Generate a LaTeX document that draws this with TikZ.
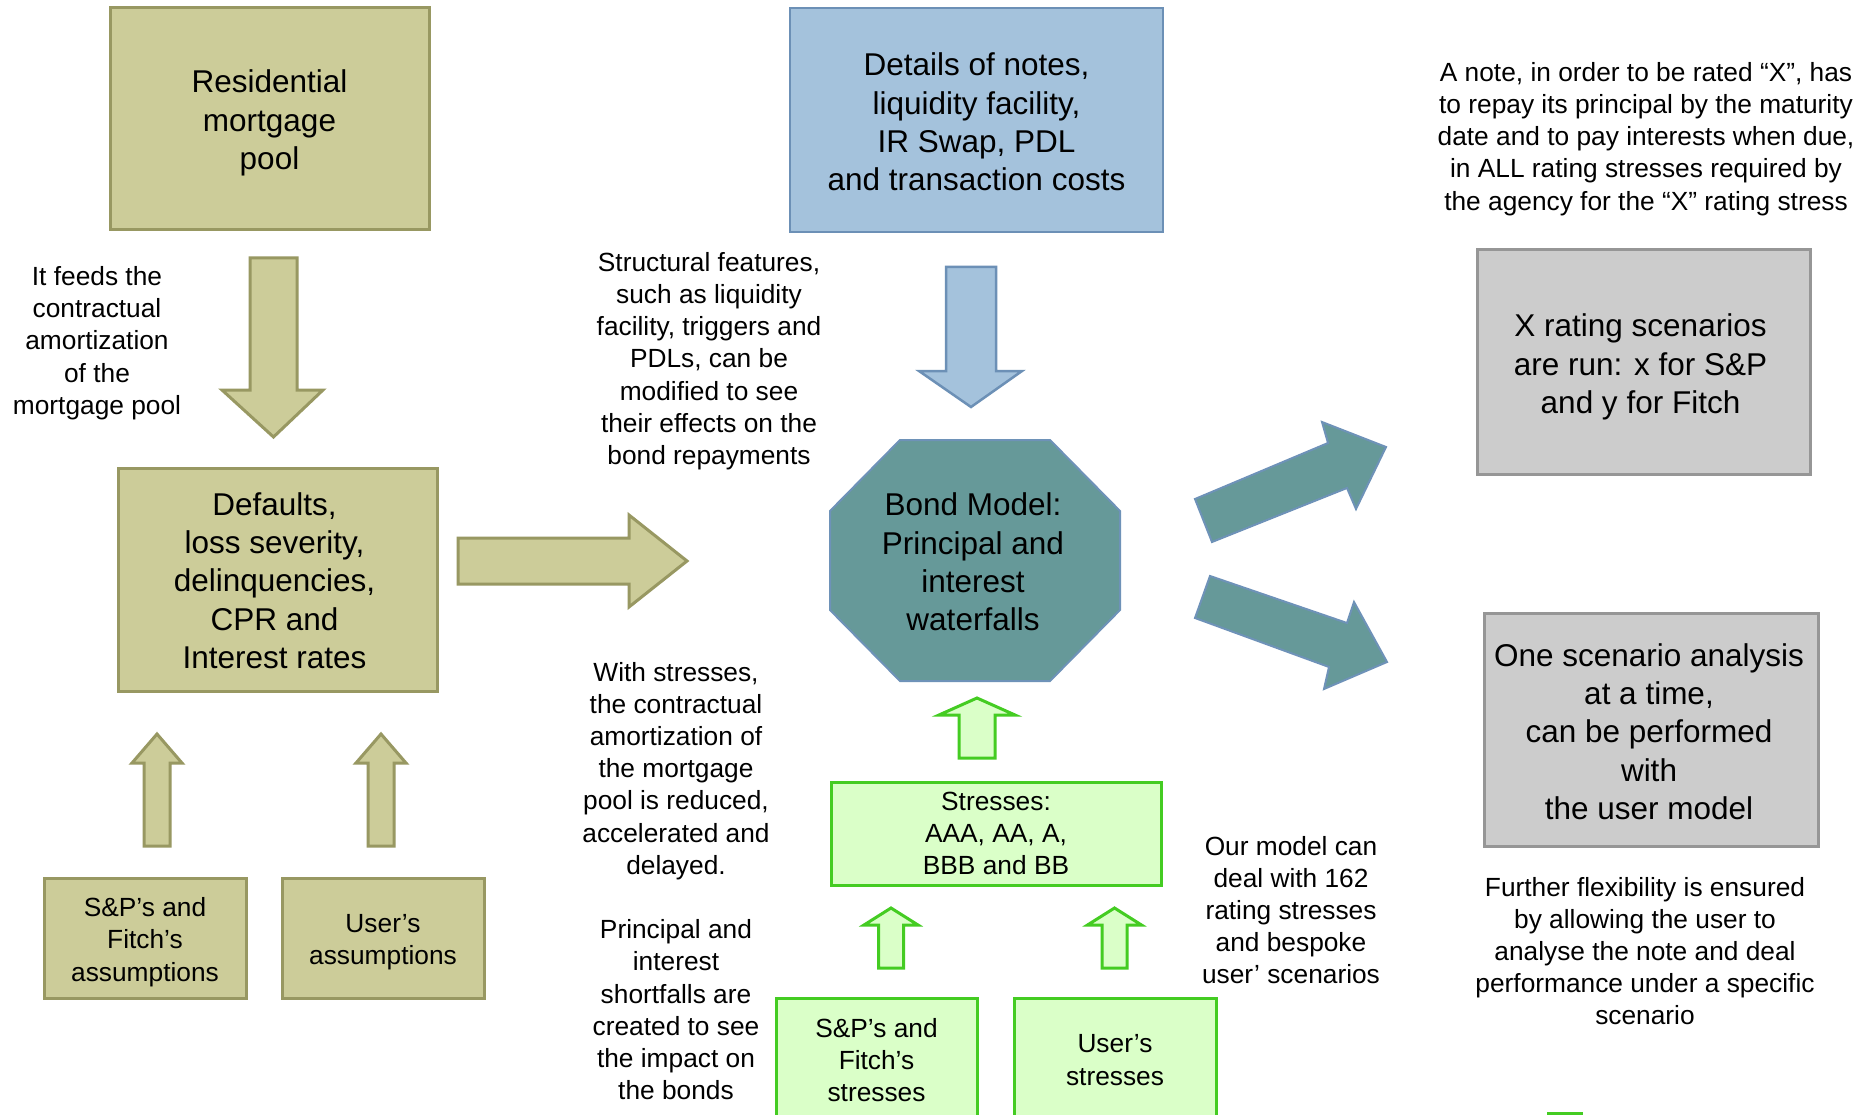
\documentclass[tikz,border=0pt]{standalone}
\usepackage{fontspec}
\setmainfont{Liberation Sans}
\usetikzlibrary{calc,positioning}

\definecolor{olivefill}{RGB}{204,204,153}
\definecolor{oliveline}{RGB}{152,152,98}
\definecolor{bluefill}{RGB}{164,194,220}
\definecolor{blueline}{RGB}{108,144,182}
\definecolor{tealfill}{RGB}{102,153,153}
\definecolor{tealline}{RGB}{110,146,184}
\definecolor{grayfill}{RGB}{204,204,204}
\definecolor{grayline}{RGB}{150,150,150}
\definecolor{greenfill}{RGB}{218,255,200}
\definecolor{greenline}{RGB}{68,204,34}

\newcommand{\bigtxt}{\fontsize{31.5}{38.3}\selectfont}
\newcommand{\smalltxt}{\fontsize{26.3}{32.2}\selectfont}

\tikzset{
  olivebox/.style={draw=oliveline, fill=olivefill, line width=3pt, inner sep=0pt},
  bluebox/.style={draw=blueline, fill=bluefill, line width=2.5pt, inner sep=0pt},
  graybox/.style={draw=grayline, fill=grayfill, line width=3pt, inner sep=0pt},
  greenbox/.style={draw=greenline, fill=greenfill, line width=3pt, inner sep=0pt},
  oliveshape/.style={draw=oliveline, fill=olivefill, line width=3pt, line join=miter},
  blueshape/.style={draw=blueline, fill=bluefill, line width=2.5pt},
  tealshape/.style={draw=tealline, fill=tealfill, line width=2pt},
  greenshape/.style={draw=greenline, fill=greenfill, line width=3pt},
  bigtext/.style={align=center, font=\bigtxt, inner sep=0pt},
  note/.style={align=center, font=\smalltxt, inner sep=0pt},
}

\begin{document}
\begin{tikzpicture}[x=1pt,y=-1pt]
    \useasboundingbox (0,0) rectangle (1866,1115);
    \clip (0,0) rectangle (1866,1115);
    \fill[white] (0,0) rectangle (1866,1115);

    % left column
    \node[olivebox, minimum width=319, minimum height=222] (pool) at (269.5,119) {};
    \node[bigtext] (pooltext) at ($(pool)+(0,4)$) {Residential\\mortgage\\pool};
    \node[olivebox, minimum width=319, minimum height=223] (defaults) at (277.5,579.5) {};
    \node[bigtext] (defaultstext) at ($(defaults)+(-3,1)$) {Defaults,\\loss severity,\\delinquencies,\\CPR and\\Interest rates};
    \node[olivebox, minimum width=202, minimum height=120] (spassume) at (145,938) {};
    \node[note] (spassumetext) at ($(spassume)+(0,4)$) {S\&P’s and\\Fitch’s\\assumptions};
    \node[olivebox, minimum width=202, minimum height=120] (userassume) at (383,938) {};
    \node[note] (userassumetext) at ($(userassume)+(0,4)$) {User’s\\assumptions};
    \node[note] (feeds) at (97,343) {It feeds the\\contractual\\amortization\\of the\\mortgage pool};

    \draw[oliveshape] (250,258) -- (297,258) -- (297,390) -- (323,390) -- (273.5,437) -- (222,390) -- (250,390) -- cycle;
    \draw[oliveshape] (458,538) -- (629,538) -- (629,515) -- (687,561) -- (629,607) -- (629,584) -- (458,584) -- cycle;
    \foreach \cx in {157,381}
    \draw[oliveshape, shift={(\cx,734)}] (0,0) -- (25,29) -- (13,29) -- (13,112) -- (-13,112) -- (-13,29) -- (-25,29) -- cycle;

    % middle column
    \node[bluebox, minimum width=373, minimum height=224] (details) at (976.5,120) {};
    \node[bigtext] (detailstext) at ($(details)+(0,2)$) {Details of notes,\\liquidity facility,\\IR Swap, PDL\\and transaction costs};
    \draw[blueshape] (946,267) -- (996,267) -- (996,371) -- (1022,371) -- (971,407) -- (919,371) -- (946,371) -- cycle;
    \node[note] (structural) at (709,361) {Structural features,\\such as liquidity\\facility, triggers and\\PDLs, can be\\modified to see\\their effects on the\\bond repayments};

    \draw[tealshape] (900,440) -- (1050,440) -- (1120,511) -- (1120,610) -- (1050,681) -- (900,681) -- (830,610) -- (830,511) -- cycle;
    \node[bigtext] (bondmodel) at (973,562) {Bond Model:\\Principal and\\interest\\waterfalls};

    \draw[greenshape, shift={(977,698)}] (0,0) -- (38,17) -- (18,17) -- (18,60) -- (-18,60) -- (-18,17) -- (-38,17) -- cycle;
    \node[greenbox, minimum width=330, minimum height=103] (stresses) at (996,833.5) {};
    \node[note] (stressestext) at (stresses) {Stresses:\\AAA, AA, A,\\BBB and BB};
    \foreach \cx in {891,1114.5}
    \draw[greenshape, shift={(\cx,908)}] (0,0) -- (27,17) -- (12.5,17) -- (12.5,60) -- (-12.5,60) -- (-12.5,17) -- (-27,17) -- cycle;
    \node[greenbox, minimum width=201, minimum height=124] (spstress) at (876.5,1060) {};
    \node[note] (spstresstext) at (spstress) {S\&P’s and\\Fitch’s\\stresses};
    \node[greenbox, minimum width=202, minimum height=124] (userstress) at (1115,1060) {};
    \node[note] (userstresstext) at (userstress) {User’s\\stresses};

    \node[note] (withstress) at (676,881) {With stresses,\\the contractual\\amortization of\\the mortgage\\pool is reduced,\\accelerated and\\delayed.\\[32.2pt]Principal and\\interest\\shortfalls are\\created to see\\the impact on\\the bonds};
    \node[note] (ourmodel) at (1291,910) {Our model can\\deal with 162\\rating stresses\\and bespoke\\user’ scenarios};

    % right column
    \draw[tealshape] (1195,499) -- (1328,443) -- (1322,422) -- (1386,447) -- (1356,509) -- (1347,488) -- (1212,542) -- cycle;
    \draw[tealshape] (1210,576) -- (1347,623) -- (1354,602) -- (1387,662) -- (1324,689) -- (1329,667) -- (1195,618) -- cycle;

    \node[note] (anote) at (1646,139) {A note, in order to be rated “X”, has\\to repay its principal by the maturity\\date and to pay interests when due,\\in ALL rating stresses required by\\the agency for the “X” rating stress};
    \node[graybox, minimum width=333, minimum height=224] (xrating) at (1643.5,362) {};
    \node[bigtext] (xratingtext) at ($(xrating)+(-3,5)$) {X rating scenarios\\are run: x for S\&P\\and y for Fitch};
    \node[graybox, minimum width=334, minimum height=233] (onescen) at (1651,729.5) {};
    \node[bigtext] (onescentext) at ($(onescen)+(-2,2)$) {One scenario analysis\\at a time,\\can be performed\\with\\the user model};
    \node[note] (further) at (1645,951) {Further flexibility is ensured\\by allowing the user to\\analyse the note and deal\\performance under a specific\\scenario};

    \fill[greenline] (1547,1112) rectangle (1583,1115);
\end{tikzpicture}
\end{document}
